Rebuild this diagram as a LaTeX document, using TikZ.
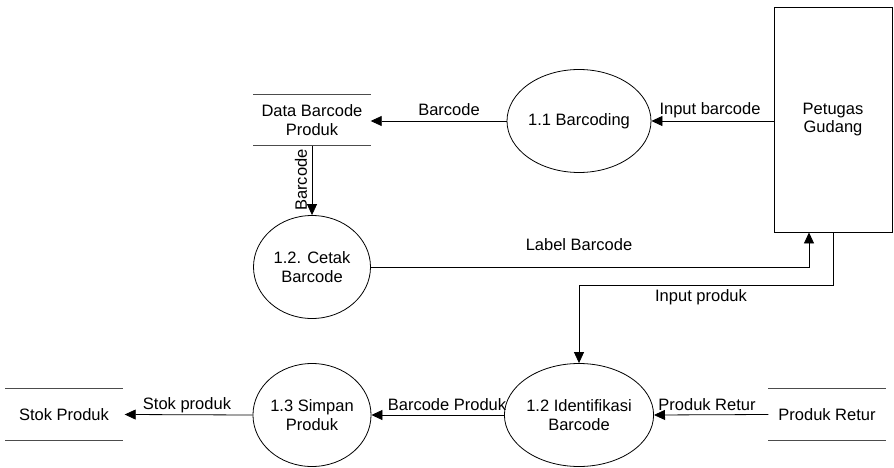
\documentclass[tikz,border=0pt]{standalone}
\usepackage{fontspec}
\setmainfont{Liberation Sans}
\usetikzlibrary{shapes.geometric,arrows.meta}
\begin{document}
\begin{tikzpicture}[x=1pt,y=-1pt,
  every node/.style={font=\fontsize{16.5}{18.5}\selectfont, inner sep=0pt, align=center},
  proc/.style={ellipse, draw, line width=0.8pt, minimum width=117pt, minimum height=103pt},
  entity/.style={rectangle, draw, line width=0.9pt, minimum width=118pt, minimum height=225pt},
  datastore/.style={minimum width=117pt, minimum height=51pt},
  storeline/.style={draw=black!70, line width=0.9pt},
  flow/.style={draw, line width=0.8pt, -{Triangle[length=11pt,width=10pt]}},
  flowlabel/.style={fill=none}
]
\useasboundingbox (0,0) rectangle (894,468);

% external entity
\node[entity] (pg) at (833,119.5) {Petugas\\Gudang};

% processes
\node[proc] (bc) at (579,121) {1.1 Barcoding};
\node[proc] (cb) at (312,267) {1.2. Cetak\\Barcode};
\node[proc] (id) at (579,415) {1.2 Identifikasi\\Barcode};
\node[proc] (sp) at (312,415) {1.3 Simpan\\Produk};

% data stores: open rectangles, top and bottom lines only
\node[datastore] (db) at (312,120) {Data Barcode\\Produk};
\node[datastore] (sk) at (64,414.5) {Stok Produk};
\node[datastore] (pr) at (827,414.5) {Produk Retur};
\foreach \s in {db,sk,pr}
  \draw[storeline] (\s.north west) -- (\s.north east)
                   (\s.south west) -- (\s.south east);

% data flows
\draw[flow] (bc.east -| pg.west) -- (bc.east);
\node[flowlabel] (l1) at (710,110) {Input barcode};

\draw[flow] (bc.west) -- (db.east |- bc.west);
\node[flowlabel] (l2) at (449,110) {Barcode};

\draw[flow] (db.south) -- (cb.north);
\node[flowlabel, rotate=90] (l3) at (301,180) {Barcode};

\draw[flow] (cb.east) -| ([xshift=-24pt]pg.south);
\node[flowlabel] (l4) at (579,245) {Label Barcode};

\draw[flow] (pg.south) -- ++(0,53) -| (id.north);
\node[flowlabel] (l5) at (701,297) {Input produk};

\draw[flow] (pr.west) -- (id.east);
\node[flowlabel] (l6) at (707,405) {Produk Retur};

\draw[flow] (id.west) -- (sp.east);
\node[flowlabel] (l7) at (447,405) {Barcode Produk};

\draw[flow] (sp.west) -- ([xshift=2pt]sk.east);
\node[flowlabel] (l8) at (187,405) {Stok produk};
\end{tikzpicture}
\end{document}
